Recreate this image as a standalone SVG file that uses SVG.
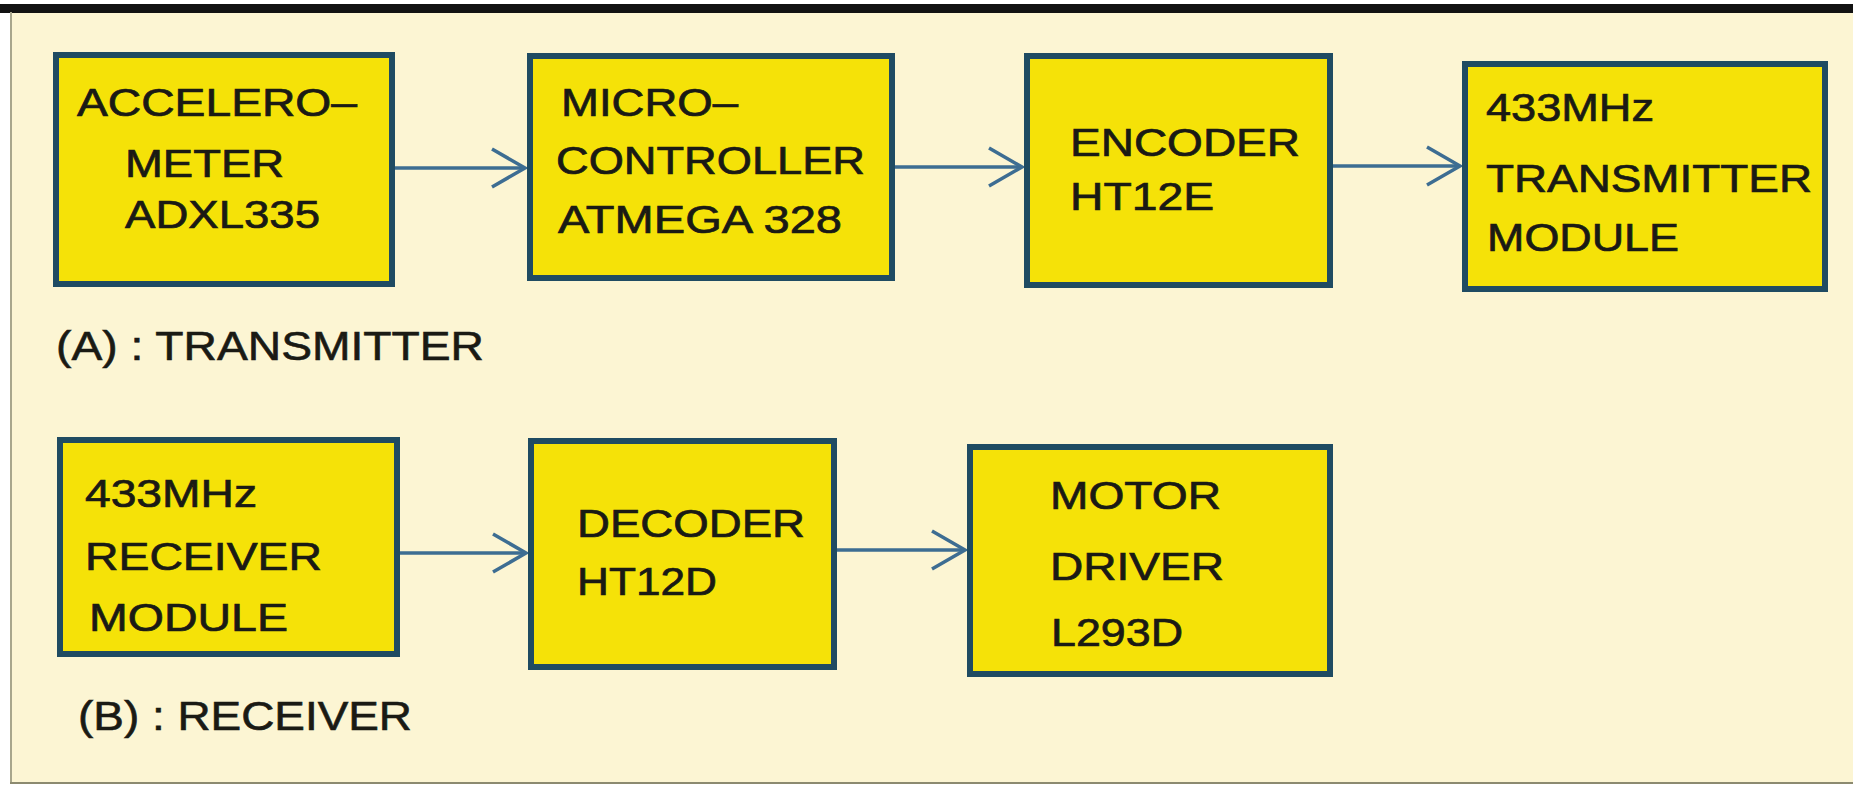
<svg xmlns="http://www.w3.org/2000/svg" width="1853" height="793" viewBox="0 0 1853 793">
<defs>
<style>
.box{fill:#F5E208;stroke:#1F4B62;stroke-width:6}
.t{font-family:"Liberation Sans",Arial,sans-serif;font-size:39px;fill:#1A1A14;stroke:#1A1A14;stroke-width:0.7}
.lbl{font-family:"Liberation Sans",Arial,sans-serif;font-size:40px;fill:#1A1A14;stroke:#1A1A14;stroke-width:0.6}
.conn{stroke:#3D6D92;stroke-width:3.5;fill:none}
</style>
<marker id="arr" markerUnits="userSpaceOnUse" markerWidth="40" markerHeight="44" viewBox="-36 -22 40 44" refX="0" refY="0" orient="auto" overflow="visible">
<path d="M-33,-19 L0,0 L-33,19" fill="none" stroke="#3D6D92" stroke-width="3.5"/>
</marker>
</defs>
<rect x="0" y="0" width="1853" height="793" fill="#FFFFFF"/>
<rect x="11" y="12" width="1842" height="772" fill="#FCF5D3"/>
<rect x="0" y="4" width="1853" height="9" fill="#121212"/>
<rect x="10" y="12" width="2" height="772" fill="#A8A68C"/>
<rect x="10" y="782" width="1843" height="2" fill="#8C8A70"/>

<g id="connectors">
<line class="conn" x1="395" y1="168" x2="525" y2="168" marker-end="url(#arr)"/>
<line class="conn" x1="895" y1="167" x2="1022" y2="167" marker-end="url(#arr)"/>
<line class="conn" x1="1333" y1="166" x2="1460" y2="166" marker-end="url(#arr)"/>
<line class="conn" x1="400" y1="553" x2="526" y2="553" marker-end="url(#arr)"/>
<line class="conn" x1="837" y1="550" x2="965" y2="550" marker-end="url(#arr)"/>
</g>

<g id="accelerometer">
<rect class="box" x="56" y="55" width="336" height="229"/>
<text class="t" x="77" y="116" textLength="280" lengthAdjust="spacingAndGlyphs">ACCELERO–</text>
<text class="t" x="125" y="177" textLength="159" lengthAdjust="spacingAndGlyphs">METER</text>
<text class="t" x="125" y="228" textLength="195" lengthAdjust="spacingAndGlyphs">ADXL335</text>
</g>

<g id="microcontroller">
<rect class="box" x="530" y="56" width="362" height="222"/>
<text class="t" x="561" y="116" textLength="177" lengthAdjust="spacingAndGlyphs">MICRO–</text>
<text class="t" x="556" y="174" textLength="309" lengthAdjust="spacingAndGlyphs">CONTROLLER</text>
<text class="t" x="558" y="233" textLength="284" lengthAdjust="spacingAndGlyphs">ATMEGA 328</text>
</g>

<g id="encoder">
<rect class="box" x="1027" y="56" width="303" height="229"/>
<text class="t" x="1070" y="156" textLength="230" lengthAdjust="spacingAndGlyphs">ENCODER</text>
<text class="t" x="1070" y="210" textLength="144" lengthAdjust="spacingAndGlyphs">HT12E</text>
</g>

<g id="transmitter-module">
<rect class="box" x="1465" y="64" width="360" height="225"/>
<text class="t" x="1486" y="121" textLength="168" lengthAdjust="spacingAndGlyphs">433MHz</text>
<text class="t" x="1486" y="192" textLength="326" lengthAdjust="spacingAndGlyphs">TRANSMITTER</text>
<text class="t" x="1487" y="251" textLength="192" lengthAdjust="spacingAndGlyphs">MODULE</text>
</g>

<g id="label-a">
<text class="lbl" x="56" y="360" textLength="428" lengthAdjust="spacingAndGlyphs">(A) : TRANSMITTER</text>
</g>

<g id="receiver-module">
<rect class="box" x="60" y="440" width="337" height="214"/>
<text class="t" x="85" y="507" textLength="172" lengthAdjust="spacingAndGlyphs">433MHz</text>
<text class="t" x="85" y="570" textLength="237" lengthAdjust="spacingAndGlyphs">RECEIVER</text>
<text class="t" x="89" y="631" textLength="199" lengthAdjust="spacingAndGlyphs">MODULE</text>
</g>

<g id="decoder">
<rect class="box" x="531" y="441" width="303" height="226"/>
<text class="t" x="577" y="537" textLength="228" lengthAdjust="spacingAndGlyphs">DECODER</text>
<text class="t" x="577" y="595" textLength="140" lengthAdjust="spacingAndGlyphs">HT12D</text>
</g>

<g id="motor-driver">
<rect class="box" x="970" y="447" width="360" height="227"/>
<text class="t" x="1050" y="509" textLength="171" lengthAdjust="spacingAndGlyphs">MOTOR</text>
<text class="t" x="1050" y="580" textLength="174" lengthAdjust="spacingAndGlyphs">DRIVER</text>
<text class="t" x="1051" y="646" textLength="132" lengthAdjust="spacingAndGlyphs">L293D</text>
</g>

<g id="label-b">
<text class="lbl" x="78" y="730" textLength="334" lengthAdjust="spacingAndGlyphs">(B) : RECEIVER</text>
</g>
</svg>
